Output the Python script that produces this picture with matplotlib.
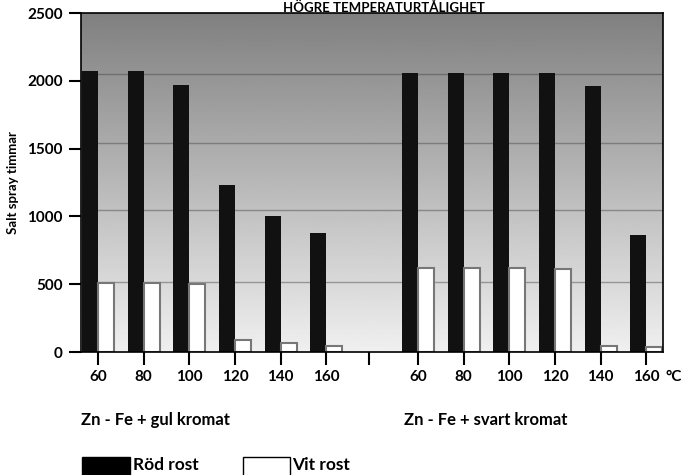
"""
salt spray hours for Zn-Fe with yellow and black chromate
at different temperatures (red rust vs white rust)
"""

import numpy as np
import matplotlib.pyplot as plt
from matplotlib.patches import Rectangle

plt.rcParams['font.family'] = ['Lato', 'DejaVu Sans']
plt.rcParams['font.weight'] = 'bold'

temps = ['60', '80', '100', '120', '140', '160']
gul_rod = [2075, 2075, 1970, 1230, 1000, 875]
gul_vit = [510, 510, 505, 90, 70, 45]
svart_rod = [2060, 2060, 2060, 2060, 1960, 865]
svart_vit = [620, 620, 620, 615, 45, 40]
grid_levels = [520, 1045, 1545, 2050]

width = 0.35
pos_gul = np.arange(6)
pos_svart = np.arange(6) + 7

fig = plt.figure(figsize=(6.85, 4.75), dpi=100)
ax = fig.add_axes([0.1182, 0.2589, 0.8496, 0.7137])

# gray gradient background, light at the bottom, dark at the top
grad = np.linspace(0.94, 0.5, 256).reshape(-1, 1)
ax.imshow(grad, extent=[-0.37, 12.36, 0, 2500], aspect='auto', cmap='gray',
          vmin=0, vmax=1, origin='lower', zorder=0)
for g in grid_levels:
    ax.axhline(g, color='#444444', lw=1, alpha=0.45, zorder=1)

ax.bar(pos_gul - width / 2, gul_rod, width, color='#111111', zorder=2)
ax.bar(pos_gul + width / 2, gul_vit, width, color='white', edgecolor='#777777', lw=1.5, zorder=2)
ax.bar(pos_svart - width / 2, svart_rod, width, color='#111111', zorder=2)
ax.bar(pos_svart + width / 2, svart_vit, width, color='white', edgecolor='#777777', lw=1.5, zorder=2)

ax.set_xlim(-0.37, 12.36)
ax.set_ylim(0, 2500)
ax.set_yticks([0, 500, 1000, 1500, 2000, 2500])
ax.set_xticks(list(pos_gul) + [5.92] + list(pos_svart))
ax.set_xticklabels(temps + [''] + temps)
ax.tick_params(axis='both', length=9, width=1.5, labelsize=11, pad=4)
for s in ax.spines.values():
    s.set_linewidth(1.2)
ax.set_ylabel('Salt spray timmar', fontsize=9.5, fontweight='bold', labelpad=6)

fig.text(0.972, 0.222, '°C', fontsize=11, fontweight='bold', va='top', ha='left')
fig.text(0.56, 0.998, 'HÖGRE TEMPERATURTÅLIGHET', fontsize=9.5, fontweight='bold',
         ha='center', va='top')
fig.text(0.118, 0.116, 'Zn - Fe + gul kromat', fontsize=12, fontweight='bold', va='center')
fig.text(0.59, 0.116, 'Zn - Fe + svart kromat', fontsize=12, fontweight='bold', va='center')

# legend boxes at the bottom
fig.patches.append(Rectangle((0.12, -0.01), 0.07, 0.048, transform=fig.transFigure,
                             facecolor='black', edgecolor='black'))
fig.text(0.194, 0.004, 'Röd rost', fontsize=12.5, fontweight='bold', va='bottom')
fig.patches.append(Rectangle((0.355, -0.01), 0.068, 0.048, transform=fig.transFigure,
                             facecolor='white', edgecolor='black', lw=1))
fig.text(0.427, 0.004, 'Vit rost', fontsize=12.5, fontweight='bold', va='bottom')

fig.savefig('out.png', dpi=100)
